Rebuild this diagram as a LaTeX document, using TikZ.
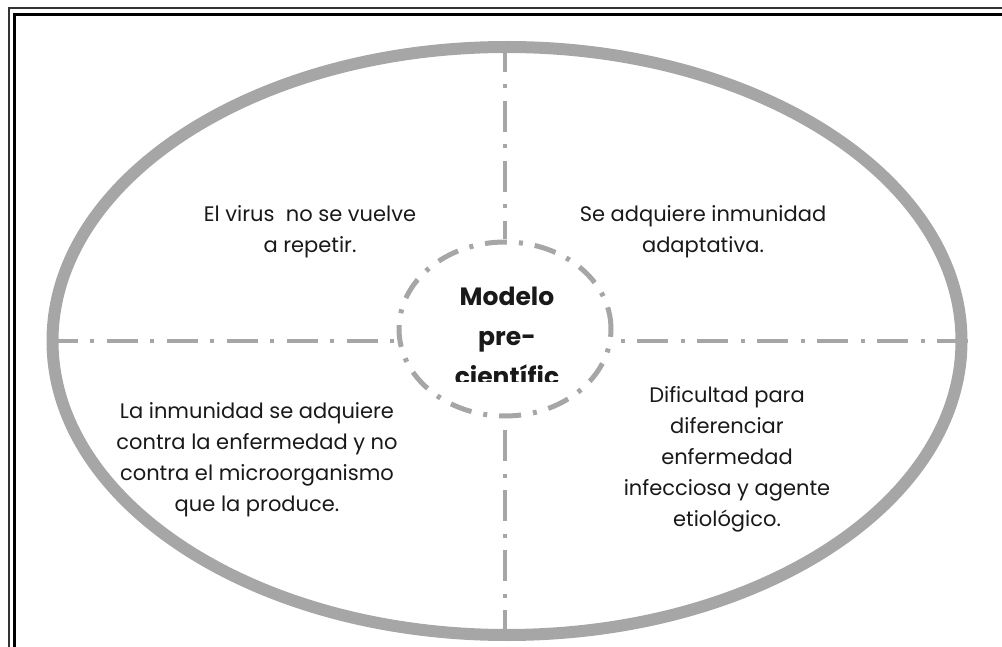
\documentclass[tikz,border=0pt]{standalone}
\usepackage{fontspec}
\setmainfont{Poppins}
\usetikzlibrary{shapes.geometric}
\definecolor{gris}{HTML}{A6A6A6}
\tikzset{
	raya/.style={gris, line width=4pt, dash pattern=on 31pt off 12pt on 4pt off 13pt},
	texto/.style={align=center, inner sep=0pt, font=\fontsize{21}{31}\selectfont, text=black!90}
}
\begin{document}
\begin{tikzpicture}[x=1pt, y=-1pt]
	\useasboundingbox (0,0) rectangle (1002,647);
	\draw[line width=2pt, black!80] (1002,8.5) -- (8.5,8.5) -- (8.5,647);
	\draw[line width=3pt] (1002,14.5) -- (14.5,14.5) -- (14.5,647);
	\node[ellipse, draw=gris, line width=12pt, inner sep=0pt, minimum width=909pt, minimum height=588pt] (externa) at (507,341) {};
	\node[ellipse, draw=gris, line width=5pt, inner sep=0pt, minimum width=212pt, minimum height=174pt, dash pattern=on 22pt off 12pt on 4pt off 12pt] (interna) at (505,329) {};
	\draw[raya] (externa.west) -- (externa.west -| interna.west);
	\draw[raya] (externa.east) -- (externa.east -| interna.east);
	\draw[raya] (interna.north |- externa.north) -- (interna.north);
	\draw[raya] (interna.north |- externa.south) -- (interna.south);
	\node[texto] (virus) at (310,232) {El virus~~no se vuelve\\a repetir.};
	\node[texto] (adquiere) at (703,232) {Se adquiere inmunidad\\adaptativa.};
	\node[texto] (enfermedad) at (257,460) {La inmunidad se adquiere\\contra la enfermedad y no\\contra el microorganismo\\que la produce.};
	\node[texto] (dificultad) at (727,459) {Dificultad para\\diferenciar\\enfermedad\\infecciosa y agente\\etiológico.};
	\begin{scope}
		\clip (420,260) rectangle (600,381);
		\node[texto, font=\bfseries\fontsize{25}{40}\selectfont, anchor=north] (modelo) at (507,287) {Modelo\\pre-\\científic};
	\end{scope}
\end{tikzpicture}
\end{document}
